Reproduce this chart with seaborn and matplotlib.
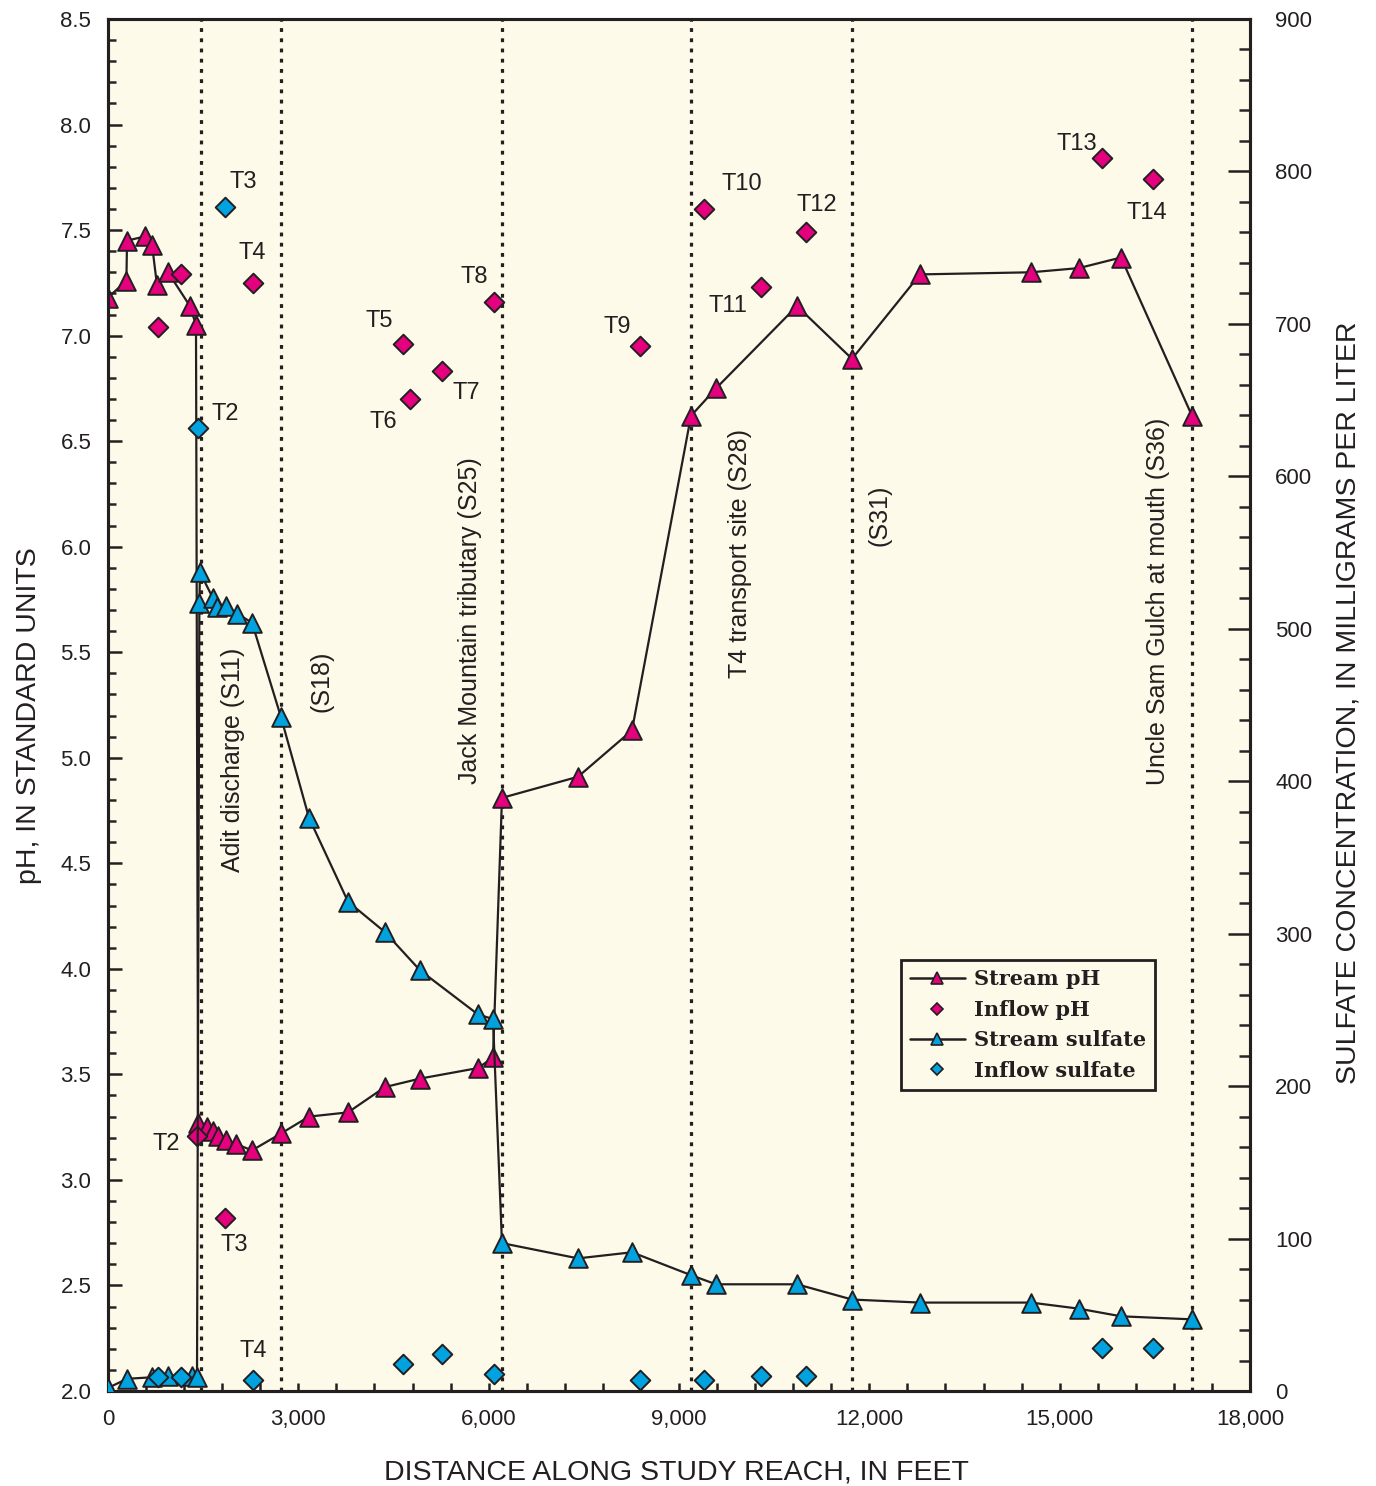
import matplotlib
matplotlib.use("Agg")
import matplotlib.pyplot as plt
import seaborn as sns
import pandas as pd
from matplotlib.lines import Line2D
from matplotlib.ticker import MultipleLocator, FuncFormatter

sns.set_theme(style="ticks")
plt.rcParams['font.family'] = ['Liberation Sans', 'DejaVu Sans']

# ---------------- data ----------------
ph_dist = [0, 290, 300, 583, 694, 772, 946, 1292, 1387, 1420, 1560, 1655, 1734,
           1860, 2017, 2270, 2727, 3168, 3783, 4366, 4917, 5832, 6068, 6210,
           7408, 8259, 9189, 9583, 10860, 11727, 12799, 14548, 15305, 15967, 17086]
ph_vals = [7.18, 7.26, 7.45, 7.47, 7.43, 7.24, 7.30, 7.14, 7.05, 3.27, 3.25, 3.23,
           3.21, 3.19, 3.17, 3.14, 3.22, 3.30, 3.32, 3.44, 3.48, 3.53, 3.58, 4.81,
           4.91, 5.13, 6.62, 6.75, 7.14, 6.89, 7.29, 7.30, 7.32, 7.37, 6.62]

sulf_dist = [0, 300, 694, 946, 1324, 1403, 1440, 1450, 1655, 1718, 1860, 2033,
             2270, 2727, 3168, 3783, 4366, 4917, 5832, 6068, 6210, 7408, 8259,
             9189, 9583, 10860, 11727, 12799, 14548, 15305, 15967, 17086]
sulf_vals = [2, 8, 9, 10, 10, 9, 517, 537, 520, 514, 515, 510, 504, 442, 376, 321,
             301, 276, 247, 244, 97, 87, 91, 76, 70, 70, 60, 58, 58, 54, 49, 47]

inflow_ph_dist = [788, 1150, 1403, 1844, 2286, 4650, 4760, 5265, 6084, 8385,
                  9394, 10293, 11003, 15667, 16471]
inflow_ph_vals = [7.04, 7.29, 3.21, 2.82, 7.25, 6.96, 6.70, 6.83, 7.16, 6.95,
                  7.60, 7.23, 7.49, 7.84, 7.74]

inflow_sulf_dist = [788, 1150, 1419, 1844, 2286, 4650, 5265, 6084, 8385, 9394,
                    10293, 11003, 15667, 16471]
inflow_sulf_vals = [9, 9, 632, 777, 7, 18, 24, 11, 7, 7, 10, 10, 28, 28]

site_dist = [1466, 2727, 6210, 9189, 11727, 17086]
site_labels = ["Adit discharge (S11)", "(S18)", "Jack Mountain tributary (S25)",
               "T4 transport site (S28)", "(S31)", "Uncle Sam Gulch at mouth (S36)"]

ph_ticks = [2.0, 2.5, 3.0, 3.5, 4.0, 4.5, 5.0, 5.5, 6.0, 6.5, 7.0, 7.5, 8.0, 8.5]
sulf_ticks = [0, 100, 200, 300, 400, 500, 600, 700, 800, 900]
dist_ticks = [0, 3000, 6000, 9000, 12000, 15000, 18000]

# ---------------- layout constants ----------------
site_label_pos = [(1970, 4.99), (3373, 5.36), (5706, 5.65), (9961, 5.97),
                  (12167, 6.15), (16550, 5.74)]
tlabels = [("T3", 2127, 7.73), ("T4", 2270, 7.39), ("T5", 4271, 7.07),
           ("T6", 4334, 6.59), ("T7", 5642, 6.73), ("T8", 5768, 7.28),
           ("T9", 8021, 7.04), ("T10", 9991, 7.72), ("T11", 9771, 7.14),
           ("T12", 11174, 7.62), ("T13", 15266, 7.91), ("T14", 16369, 7.58),
           ("T2", 1844, 6.63), ("T2", 914, 3.17), ("T3", 1986, 2.69),
           ("T4", 2286, 2.19)]

MAGENTA = "#E5007E"
BLUE = "#00A3DF"
CREAM = "#FEFAE9"
INK = "#231F20"

fig = plt.figure(figsize=(13.76, 14.86), dpi=100)
ax = fig.add_axes([108 / 1376, 95 / 1486, 1142 / 1376, 1372 / 1486])
ax.set_facecolor(CREAM)
ax2 = ax.twinx()

df_ph = pd.DataFrame({"dist": ph_dist, "val": ph_vals})
df_s = pd.DataFrame({"dist": sulf_dist, "val": sulf_vals})
df_iph = pd.DataFrame({"dist": inflow_ph_dist, "val": inflow_ph_vals})
df_is = pd.DataFrame({"dist": inflow_sulf_dist, "val": inflow_sulf_vals})

# vertical site lines
for d in site_dist:
    ax.axvline(d, color=INK, lw=2.3, ls=(0, (1.2, 2.0)), zorder=1)
for lab, (x, y) in zip(site_labels, site_label_pos):
    ax.text(x, y, lab, rotation=90, ha="center", va="center", fontsize=18,
            color=INK)

# stream pH
sns.lineplot(data=df_ph, x="dist", y="val", sort=False, estimator=None,
             color=INK, lw=1.6, ax=ax, zorder=2)
sns.scatterplot(data=df_ph, x="dist", y="val", marker="^", s=180, color=MAGENTA,
                edgecolor=INK, linewidth=1.4, ax=ax, zorder=3)
sns.scatterplot(data=df_iph, x="dist", y="val", marker="D", s=100, color=MAGENTA,
                edgecolor=INK, linewidth=1.4, ax=ax, zorder=3)

# sulfate
sns.lineplot(data=df_s, x="dist", y="val", sort=False, estimator=None,
             color=INK, lw=1.6, ax=ax2, zorder=2)
sns.scatterplot(data=df_s, x="dist", y="val", marker="^", s=180, color=BLUE,
                edgecolor=INK, linewidth=1.4, ax=ax2, zorder=3)
sns.scatterplot(data=df_is, x="dist", y="val", marker="D", s=100, color=BLUE,
                edgecolor=INK, linewidth=1.4, ax=ax2, zorder=3)

for lab, x, y in tlabels:
    ax.text(x, y, lab, ha="center", va="center", fontsize=17, color=INK)

# axes
ax.set_xlim(0, 18000)
ax.set_ylim(2.0, 8.5)
ax2.set_ylim(0, 900)
ax.set_xticks(dist_ticks)
ax.xaxis.set_minor_locator(MultipleLocator(600))
ax.xaxis.set_major_formatter(FuncFormatter(lambda v, p: f"{int(v):,}"))
ax.set_yticks(ph_ticks)
ax.yaxis.set_minor_locator(MultipleLocator(0.1))
ax.yaxis.set_major_formatter(FuncFormatter(lambda v, p: f"{v:.1f}"))
ax2.set_yticks(sulf_ticks)
ax2.yaxis.set_minor_locator(MultipleLocator(20))

ax.tick_params(axis="x", which="both", direction="in", length=6, width=1.8,
               labelsize=16, pad=13, colors=INK)
ax.tick_params(axis="y", which="major", direction="in", length=10, width=1.8,
               labelsize=16, pad=12, colors=INK)
ax.tick_params(axis="y", which="minor", direction="in", length=6, width=1.8)
ax2.tick_params(axis="y", which="major", direction="in", length=16, width=1.8,
                labelsize=16, pad=18, colors=INK)
ax2.tick_params(axis="y", which="minor", direction="in", length=8, width=1.8)

for a in (ax, ax2):
    for s in a.spines.values():
        s.set_linewidth(2.2)
        s.set_color(INK)

ax.set_xlabel("DISTANCE ALONG STUDY REACH, IN FEET", fontsize=20.5, color=INK)
ax.set_ylabel("pH, IN STANDARD UNITS", fontsize=20.5, color=INK)
ax2.set_ylabel("SULFATE CONCENTRATION, IN MILLIGRAMS PER LITER", fontsize=20.5,
               color=INK)
ax.xaxis.set_label_coords(0.498, -0.0496)
ax.yaxis.set_label_coords(-0.058, 0.492)
ax2.yaxis.set_label_coords(1.0753, 0.502)

handles = [
    Line2D([], [], color=INK, lw=1.8, marker="^", ms=8, mfc=MAGENTA,
           mec=INK, mew=1.2),
    Line2D([], [], ls="none", marker="D", ms=6.5, mfc=MAGENTA, mec=INK, mew=1.2),
    Line2D([], [], color=INK, lw=1.8, marker="^", ms=8, mfc=BLUE,
           mec=INK, mew=1.2),
    Line2D([], [], ls="none", marker="D", ms=6.5, mfc=BLUE, mec=INK, mew=1.2),
]
labels = ["Stream pH", "Inflow pH", "Stream sulfate", "Inflow sulfate"]
leg = ax2.legend(handles, labels, loc="upper left", bbox_to_anchor=(0.6944, 0.3141),
                 borderaxespad=0, frameon=True, fancybox=False, framealpha=1,
                 facecolor=CREAM, edgecolor=INK, handlelength=2.6,
                 handletextpad=0.45, labelspacing=0.5, borderpad=0.45,
                 prop={"family": "DejaVu Serif", "weight": "bold", "size": 15})
leg.get_frame().set_linewidth(2)
for t in leg.get_texts():
    t.set_color(INK)

fig.savefig("out.png", dpi=100, facecolor="white")
